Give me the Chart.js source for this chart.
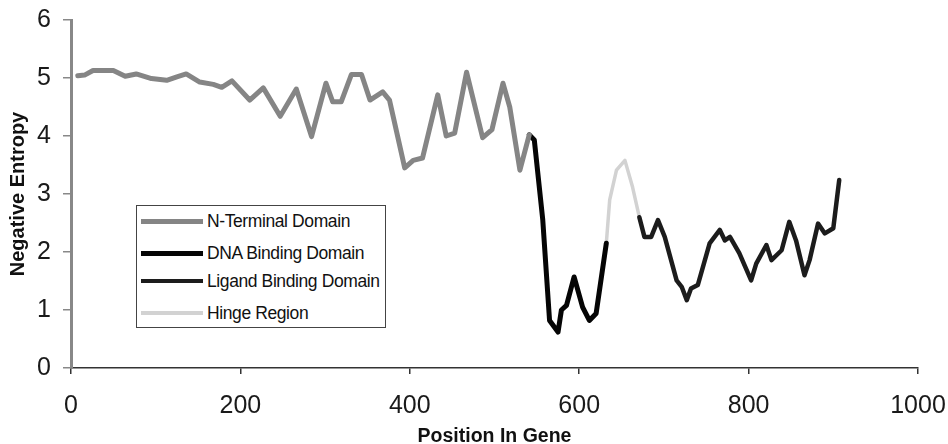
<!DOCTYPE html>
<html>
<head>
<meta charset="utf-8">
<script src="https://cdn.jsdelivr.net/npm/chart.js@4.4.1/dist/chart.umd.min.js"></script>
<style>
    body { margin: 0; background: #fff; }
    #wrap { position: relative; width: 948px; height: 444px; }
    #legend {
        position: absolute; left: 136px; top: 205px; width: 248px; height: 121px;
        border: 1.5px solid #444; background: #fff;
        font-family: "Liberation Sans", Arial, sans-serif; font-size: 17.5px; color: #111;
        letter-spacing: -0.4px;
    }
    .row { position: absolute; left: 4px; height: 20px; display: flex; align-items: center; white-space: nowrap; }
    .swatch { width: 62px; margin-right: 4px; }
</style>
</head>
<body>
<div id="wrap">
    <canvas id="myChart"></canvas>
    <div id="legend"></div>
</div>
<script>
// N-Terminal Domain
const ntermPos = [8, 16, 26, 50, 64, 77, 95, 113, 125, 136, 152, 168, 178, 190, 211, 227, 247, 266, 284, 301,
    309, 319, 331, 343, 353, 368, 376, 394, 404, 415, 433, 443, 453, 467, 486, 497, 510, 518, 530, 541];
const ntermVal = [5.04, 5.05, 5.13, 5.13, 5.03, 5.07, 4.99, 4.96, 5.02, 5.07, 4.93, 4.89, 4.84, 4.95, 4.62, 4.83, 4.34, 4.81, 3.99, 4.91,
    4.59, 4.59, 5.06, 5.06, 4.62, 4.76, 4.62, 3.45, 3.58, 3.62, 4.71, 4.0, 4.05, 5.1, 3.97, 4.11, 4.91, 4.5, 3.41, 4.02];

// DNA Binding Domain
const dnaPos = [541, 547, 557, 565, 575, 579, 585, 594, 604, 612, 620, 632];
const dnaVal = [4.02, 3.93, 2.55, 0.82, 0.62, 1.0, 1.08, 1.57, 1.05, 0.82, 0.94, 2.15];

// Hinge Region
const hingePos = [632, 636, 644, 654, 663, 671];
const hingeVal = [2.15, 2.9, 3.41, 3.58, 3.12, 2.6];

// Ligand Binding Domain
const ligandPos = [671, 677, 685, 693, 701, 715, 721, 727, 732, 740, 754, 766, 772, 778, 789, 803, 809, 821, 827, 839,
    848, 856, 866, 872, 882, 890, 900, 907];
const ligandVal = [2.6, 2.26, 2.26, 2.55, 2.26, 1.51, 1.40, 1.17, 1.37, 1.43, 2.15, 2.38, 2.2, 2.26, 1.98, 1.51, 1.80, 2.12, 1.86, 2.03,
    2.52, 2.2, 1.60, 1.86, 2.49, 2.32, 2.41, 3.24];

const xTicks = [0, 200, 400, 600, 800, 1000];
const yTicks = [0, 1, 2, 3, 4, 5, 6];

const pts = (xs, ys) => xs.map((x, i) => ({x: x, y: ys[i]}));

const series = [
    {label: 'N-Terminal Domain', data: pts(ntermPos, ntermVal), color: '#858585', width: 5},
    {label: 'DNA Binding Domain', data: pts(dnaPos, dnaVal), color: '#050505', width: 5},
    {label: 'Ligand Binding Domain', data: pts(ligandPos, ligandVal), color: '#1c1c1c', width: 4.5},
    {label: 'Hinge Region', data: pts(hingePos, hingeVal), color: '#d2d2d2', width: 3.5},
];

const font = '"Liberation Sans", Arial, sans-serif';

const ctx = document.getElementById('myChart');

let ch = new Chart(ctx, {
    type: 'line',
    data: {
        datasets: series.map(s => ({
            label: s.label,
            data: s.data,
            borderColor: s.color,
            borderWidth: s.width,
            pointRadius: 0,
            tension: 0,
            borderJoinStyle: 'round',
            borderCapStyle: 'round',
        }))
    },
    options: {
        responsive: true,
        maintainAspectRatio: false,
        animation: false,
        layout: { padding: {top: 20, right: 30, bottom: 0, left: 0} },
        plugins: {
            legend: { display: false },
            tooltip: { enabled: false },
        },
        scales: {
            x: {
                type: 'linear',
                min: 0,
                max: 1000,
                afterBuildTicks: (s) => { s.ticks = xTicks.map(v => ({value: v})); },
                afterFit: (s) => { s.height = 76; s.paddingRight = 0; s.paddingLeft = 0; },
                ticks: {
                    color: '#1a1a1a', padding: 17, font: {family: font, size: 25}, maxRotation: 0,
                    callback: (v) => String(v)
                },
                grid: { drawOnChartArea: false, drawTicks: true, tickLength: 6, color: '#333', lineWidth: 1.5 },
                border: { color: '#333', width: 1.5 },
                title: {
                    display: true, text: 'Position In Gene', color: '#111',
                    font: {family: font, size: 19.5, weight: 'bold'}, padding: {top: 0, bottom: -4}
                },
            },
            y: {
                min: 0,
                max: 6,
                afterBuildTicks: (s) => { s.ticks = yTicks.map(v => ({value: v})); },
                afterFit: (s) => { s.width = 71; s.paddingTop = 0; s.paddingBottom = 0; },
                ticks: { color: '#1a1a1a', padding: 12, font: {family: font, size: 25} },
                grid: { drawOnChartArea: false, drawTicks: true, tickLength: 8, color: '#888', lineWidth: 1.5 },
                border: { color: '#888', width: 3 },
                title: {
                    display: true, text: 'Negative Entropy', color: '#111',
                    font: {family: font, size: 20, weight: 'bold'}, padding: {top: 6, bottom: 0}
                },
            }
        }
    }
});

// legend box drawn inside the plot, as in the original figure
let lg = document.getElementById('legend');
let rowTops = [5, 37, 65, 97];
series.forEach((s, i) => {
    let row = document.createElement('div');
    row.className = 'row';
    row.style.top = rowTops[i] + 'px';
    let sw = document.createElement('div');
    sw.className = 'swatch';
    sw.style.height = s.width + 'px';
    sw.style.background = s.color;
    let tx = document.createElement('span');
    tx.textContent = s.label;
    row.appendChild(sw);
    row.appendChild(tx);
    lg.appendChild(row);
});
</script>
</body>
</html>
